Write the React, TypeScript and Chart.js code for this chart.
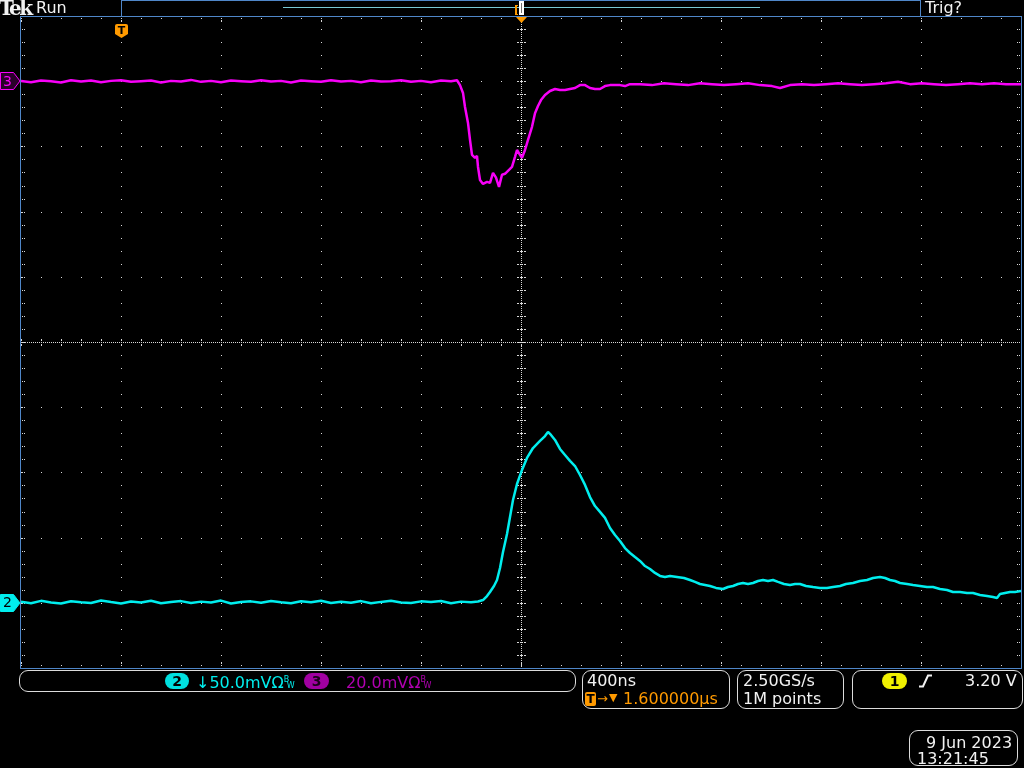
import React, { useEffect, useRef } from 'react';
import { Chart, registerables } from 'chart.js';

Chart.register(...registerables);

// ---- scale setup (time in ns relative to trigger, voltages in mV) ----
const TIME_DIVS_NS = [-400, 0, 400, 800, 1200, 1600, 2000, 2400, 2800, 3200, 3600];
const CH2_DIVS_MV = [-50, 0, 50, 100, 150, 200, 250, 300, 350, 400, 450];
const CH3_RANGE_MV = [-180, 20];

// ---- channel 2 (cyan, 50 mV/div) ----
const CH2_TRACE: [number, number][] = [
  [-400, 0.8], [-360, -0.4], [-320, 1.5], [-280, 0.2], [-240, -0.6], [-200, 1.2], [-160, 0.4], [-120, -0.2], [-80, 1.8], [-40, 0.6],
  [0, -0.5], [40, 1.0], [80, 0.3], [120, 1.6], [160, -0.3], [200, 0.7], [240, 1.3], [280, -0.1], [320, 0.9], [360, 0.2],
  [400, 1.7], [440, -0.5], [480, 0.6], [520, 1.1], [560, 0.0], [600, 1.4], [640, 0.5], [680, -0.3], [720, 1.2], [760, 0.4],
  [800, 1.6], [840, -0.2], [880, 0.8], [920, 0.1], [960, 1.3], [1000, -0.4], [1040, 0.7], [1080, 1.5], [1120, 0.3], [1160, -0.1],
  [1200, 1.1], [1240, 0.6], [1280, 1.4], [1320, -0.3], [1360, 0.9], [1400, 0.4], [1428, 1.0],
  [1448, 2.1], [1464, 5.2], [1476, 8.3], [1492, 12.9], [1504, 17.5], [1516, 26.7], [1528, 39.0], [1544, 52.8], [1556, 65.8],
  [1568, 78.8], [1584, 91.1], [1604, 101.9], [1624, 111.1], [1648, 118.7], [1676, 124.1], [1696, 127.9], [1708, 131.0],
  [1720, 128.7], [1736, 124.9], [1756, 118.0], [1776, 113.4], [1796, 108.8], [1816, 104.9], [1836, 98.0], [1856, 90.4],
  [1876, 81.1], [1896, 74.2], [1916, 69.7], [1936, 65.1], [1956, 57.4], [1976, 52.0], [1996, 47.4], [2016, 42.0],
  [2036, 38.2], [2056, 35.1], [2076, 32.1], [2096, 28.2], [2116, 25.9], [2136, 22.9], [2156, 20.6], [2176, 19.8],
  [2196, 20.6], [2224, 19.8], [2252, 19.0], [2276, 17.5], [2296, 16.0], [2316, 14.4], [2336, 13.7], [2356, 12.9],
  [2380, 11.4], [2408, 10.6], [2428, 12.1], [2448, 12.9], [2468, 14.4], [2488, 15.2], [2508, 14.4], [2528, 15.2],
  [2548, 16.7], [2568, 17.5], [2588, 16.7], [2608, 17.5], [2628, 16.0], [2652, 14.4], [2676, 13.7], [2696, 14.4],
  [2716, 14.4], [2740, 12.9], [2768, 12.1], [2796, 11.4], [2824, 11.4], [2848, 12.1], [2876, 12.9], [2900, 14.4],
  [2928, 15.2], [2956, 16.7], [2984, 17.5], [3008, 19.0], [3036, 19.8], [3056, 19.0], [3076, 17.5], [3096, 16.7],
  [3116, 15.2], [3144, 14.4], [3168, 13.7], [3196, 12.9], [3224, 12.1], [3248, 12.1], [3276, 10.6], [3304, 9.8],
  [3328, 8.3], [3356, 8.3], [3384, 7.5], [3408, 7.5], [3436, 6.0], [3464, 5.2], [3488, 4.4], [3504, 3.7],
  [3516, 6.7], [3536, 7.5], [3556, 8.3], [3576, 8.3], [3600, 9.0],
];

// ---- channel 3 (magenta, 20 mV/div) ----
const CH3_TRACE: [number, number][] = [
  [-400, 0.1], [-360, -0.3], [-320, 0.2], [-280, 0.0], [-240, -0.4], [-200, 0.3], [-160, -0.1], [-120, 0.2], [-80, -0.3], [-40, 0.1],
  [0, 0.3], [40, -0.2], [80, 0.0], [120, 0.2], [160, -0.4], [200, 0.1], [240, -0.1], [280, 0.4], [320, -0.2], [360, 0.1],
  [400, -0.3], [440, 0.2], [480, 0.0], [520, -0.2], [560, 0.3], [600, -0.1], [640, 0.1], [680, -0.4], [720, 0.2], [760, 0.0],
  [800, -0.2], [840, 0.3], [880, -0.1], [920, 0.1], [960, -0.3], [1000, 0.2], [1040, -0.1], [1080, 0.0], [1120, 0.3], [1160, -0.2],
  [1200, 0.1], [1240, -0.3], [1280, 0.2], [1320, 0.0], [1344, 0.3],
  [1356, -1.2], [1368, -3.6], [1376, -7.9], [1388, -12.8], [1396, -18.0], [1404, -22.6], [1416, -23.5], [1424, -22.9],
  [1428, -26.3], [1436, -30.3], [1448, -31.5], [1464, -30.9], [1476, -31.2], [1488, -28.1], [1500, -29.6], [1512, -32.4],
  [1524, -28.7], [1536, -28.4], [1552, -27.2], [1564, -26.3], [1576, -23.2], [1584, -21.1], [1596, -22.6], [1604, -23.5],
  [1616, -21.1], [1628, -18.0], [1644, -14.0], [1656, -9.8], [1668, -7.6], [1680, -5.8], [1696, -4.2], [1716, -3.0],
  [1736, -2.4], [1756, -2.7], [1776, -2.7], [1796, -2.4], [1816, -2.1], [1836, -1.2], [1856, -1.2], [1876, -2.1],
  [1896, -2.4], [1916, -2.4], [1936, -1.5], [1956, -1.2], [1976, -1.2], [1996, -1.2], [2016, -1.5], [2036, -0.9],
  [2076, -0.9], [2124, -1.2], [2172, -0.6], [2220, -0.9], [2268, -1.2], [2316, -0.6], [2364, -0.9], [2412, -1.2],
  [2460, -0.9], [2508, -0.6], [2556, -1.2], [2604, -1.5], [2636, -2.1], [2676, -1.2], [2724, -0.9], [2772, -1.2],
  [2820, -0.9], [2868, -0.6], [2916, -0.9], [2964, -1.2], [3012, -0.9], [3060, -0.6], [3108, -0.2], [3156, -0.9],
  [3204, -0.6], [3252, -0.9], [3300, -1.2], [3348, -0.9], [3396, -0.6], [3444, -0.9], [3492, -0.6], [3540, -0.9], [3600, -0.9],
];

const CH2_COLOR = '#00eeee';
const CH3_COLOR = '#f800f8';
const ORANGE = '#ff9a00';
const BLUE = '#4f86c8';
const DOT = '#d8d8d8';
const FONT = '"DejaVu Sans", sans-serif';

const graticule = {
  id: 'graticule',
  beforeDraw(chart: any) {
    const { ctx, width, height } = chart;
    ctx.save();
    ctx.fillStyle = '#000';
    ctx.fillRect(0, 0, width, height);
    ctx.restore();
  },
  beforeDatasetsDraw(chart: any) {
    const { ctx, chartArea: a, scales } = chart;
    const xs = scales.x;
    const ys = scales.y2;
    const xDiv = TIME_DIVS_NS.map((v) => Math.round(xs.getPixelForValue(v)));
    const yDiv = CH2_DIVS_MV.map((v) => Math.round(ys.getPixelForValue(v)));
    const xStep = (TIME_DIVS_NS[1] - TIME_DIVS_NS[0]) / 5;
    const yStep = (CH2_DIVS_MV[1] - CH2_DIVS_MV[0]) / 5;
    const xMinor: number[] = [];
    for (let v = TIME_DIVS_NS[0]; v <= TIME_DIVS_NS[TIME_DIVS_NS.length - 1] + 0.1; v += xStep) xMinor.push(Math.round(xs.getPixelForValue(v)));
    const yMinor: number[] = [];
    for (let v = CH2_DIVS_MV[0]; v <= CH2_DIVS_MV[CH2_DIVS_MV.length - 1] + 0.1; v += yStep) yMinor.push(Math.round(ys.getPixelForValue(v)));
    const xc = xDiv[5];
    const yc = yDiv[5];
    ctx.save();
    ctx.fillStyle = DOT;
    for (let i = 1; i < xDiv.length - 1; i++) {
      if (i === 5) continue;
      for (const y of yMinor) ctx.fillRect(xDiv[i], y, 1, 1);
    }
    for (let j = 1; j < yDiv.length - 1; j++) {
      if (j === 5) continue;
      for (const x of xMinor) ctx.fillRect(x, yDiv[j], 1, 1);
    }
    for (let x = Math.round(a.left); x < a.right; x += 2) ctx.fillRect(x, yc, 1, 1);
    for (let y = Math.round(a.top); y < a.bottom; y += 2) ctx.fillRect(xc, y, 1, 1);
    for (const x of xMinor) {
      ctx.fillRect(x, yc - 3, 1, 2);
      ctx.fillRect(x, yc + 2, 1, 2);
    }
    for (const y of yMinor) {
      ctx.fillRect(xc - 4, y, 2, 1);
      ctx.fillRect(xc - 1, y, 3, 1);
      ctx.fillRect(xc + 3, y, 2, 1);
    }
    const top = Math.round(a.top);
    const bottom = Math.round(a.bottom);
    const left = Math.round(a.left);
    const right = Math.round(a.right);
    for (const x of xMinor) {
      ctx.fillRect(x, top + 2, 1, 1);
      ctx.fillRect(x, bottom - 3, 1, 1);
    }
    for (const x of xDiv) {
      ctx.fillRect(x, top + 4, 1, 2);
      ctx.fillRect(x, bottom - 6, 1, 2);
    }
    for (const y of yMinor) {
      ctx.fillRect(left + 1, y, 1, 1);
      ctx.fillRect(left + 3, y, 1, 1);
      ctx.fillRect(right - 2, y, 1, 1);
      ctx.fillRect(right - 4, y, 1, 1);
    }
    ctx.restore();
  },
  afterDraw(chart: any) {
    const { ctx, chartArea: a, scales } = chart;
    const xs = scales.x;
    const top = Math.round(a.top);
    const bottom = Math.round(a.bottom);
    const left = Math.round(a.left);
    const right = Math.round(a.right);
    ctx.save();
    ctx.fillStyle = BLUE;
    ctx.fillRect(left - 1, top, right - left + 2, 1);
    ctx.fillRect(left - 1, bottom, right - left + 2, 1);
    ctx.fillRect(left - 1, top, 1, bottom - top + 1);
    ctx.fillRect(right, top, 1, bottom - top + 1);
    const trigX = Math.round(xs.getPixelForValue(0));
    ctx.fillRect(trigX, 0, 920 - trigX, 1);
    ctx.fillRect(trigX, 0, 1, top);
    ctx.fillRect(920, 0, 1, top);
    ctx.fillStyle = '#78c8d4';
    ctx.fillRect(283, 7, 477, 1);
    const xc = Math.round(xs.getPixelForValue(1600));
    ctx.fillStyle = '#ffffff';
    ctx.fillRect(xc - 2, 1, 5, 14);
    ctx.fillStyle = '#707070';
    ctx.fillRect(xc, 3, 1, 10);
    ctx.fillStyle = ORANGE;
    ctx.fillRect(xc - 6, 5, 2, 10);
    ctx.fillRect(xc - 6, 5, 3, 1);
    ctx.fillRect(xc - 6, 14, 3, 1);
    ctx.beginPath();
    ctx.moveTo(xc - 5, top + 1);
    ctx.lineTo(xc + 6, top + 1);
    ctx.lineTo(xc + 0.5, top + 7);
    ctx.closePath();
    ctx.fill();
    ctx.beginPath();
    ctx.moveTo(trigX - 6, 26);
    ctx.quadraticCurveTo(trigX - 6, 24, trigX - 4, 24);
    ctx.lineTo(trigX + 5, 24);
    ctx.quadraticCurveTo(trigX + 7, 24, trigX + 7, 26);
    ctx.lineTo(trigX + 7, 34);
    ctx.lineTo(trigX + 0.5, 38);
    ctx.lineTo(trigX - 6, 34);
    ctx.closePath();
    ctx.fill();
    const g3 = Math.round(scales.y3.getPixelForValue(0));
    const g2 = Math.round(scales.y2.getPixelForValue(0));
    const marker = (y: number, fill: string, stroke: string) => {
      ctx.beginPath();
      ctx.moveTo(0.5, y - 8.5);
      ctx.lineTo(13.5, y - 8.5);
      ctx.lineTo(20, y);
      ctx.lineTo(13.5, y + 8.5);
      ctx.lineTo(0.5, y + 8.5);
      ctx.closePath();
      ctx.fillStyle = fill;
      ctx.fill();
      ctx.strokeStyle = stroke;
      ctx.lineWidth = 1;
      ctx.stroke();
    };
    marker(g3, '#2a002a', CH3_COLOR);
    marker(g2, CH2_COLOR, CH2_COLOR);
    ctx.restore();
  },
};

const Txt = ({ s, left, top, color = '#f2f2f2', size = 16, style = {} }: any) => (
  <div
    style={{
      position: 'absolute',
      left,
      top,
      color,
      fontSize: size,
      lineHeight: `${size}px`,
      fontFamily: FONT,
      whiteSpace: 'pre',
      ...style,
    }}
  >
    {s}
  </div>
);

const Pill = ({ s, left, top, w, h, bg, color }: any) => (
  <div
    style={{
      position: 'absolute',
      left,
      top,
      width: w,
      height: h,
      background: bg,
      borderRadius: h / 2,
      color,
      fontFamily: FONT,
      fontSize: 14,
      fontWeight: 'bold',
      lineHeight: `${h}px`,
      textAlign: 'center',
    }}
  >
    {s}
  </div>
);

const Box = ({ left, top, w, h }: any) => (
  <div
    style={{
      position: 'absolute',
      left,
      top,
      width: w,
      height: h,
      boxSizing: 'border-box',
      border: '1px solid #dcdcdc',
      borderRadius: 9,
    }}
  />
);

const BW = ({ color }: any) => (
  <span style={{ display: 'inline-block', position: 'relative', width: 11, height: 14, verticalAlign: 'top', color, fontSize: 8, lineHeight: '8px' }}>
    <span style={{ position: 'absolute', left: 0, top: 1 }}>B</span>
    <span style={{ position: 'absolute', left: 3, top: 7 }}>W</span>
  </span>
);

export default function App() {
  const ref = useRef<HTMLCanvasElement | null>(null);

  useEffect(() => {
    if (!ref.current) return;
    const chart = new Chart(ref.current, {
      type: 'line',
      data: {
        datasets: [
          {
            label: 'CH3',
            data: CH3_TRACE.map(([x, y]) => ({ x, y })),
            xAxisID: 'x',
            yAxisID: 'y3',
            borderColor: CH3_COLOR,
            borderWidth: 2.5,
            pointRadius: 0,
            tension: 0,
            borderJoinStyle: 'bevel',
          },
          {
            label: 'CH2',
            data: CH2_TRACE.map(([x, y]) => ({ x, y })),
            xAxisID: 'x',
            yAxisID: 'y2',
            borderColor: CH2_COLOR,
            borderWidth: 2.5,
            pointRadius: 0,
            tension: 0,
            borderJoinStyle: 'bevel',
          },
        ],
      },
      options: {
        animation: false,
        responsive: false,
        events: [],
        layout: { padding: { left: 21, top: 16, right: 3, bottom: 100 } },
        plugins: { legend: { display: false }, tooltip: { enabled: false } },
        scales: {
          x: { type: 'linear', min: TIME_DIVS_NS[0], max: TIME_DIVS_NS[TIME_DIVS_NS.length - 1], display: false },
          y2: { type: 'linear', min: CH2_DIVS_MV[0], max: CH2_DIVS_MV[CH2_DIVS_MV.length - 1], display: false },
          y3: { type: 'linear', min: CH3_RANGE_MV[0], max: CH3_RANGE_MV[1], display: false },
        },
      } as any,
      plugins: [graticule],
    });
    return () => chart.destroy();
  }, []);

  return (
    <div style={{ position: 'fixed', left: 0, top: 0, width: 1024, height: 768, background: '#000', overflow: 'hidden' }}>
      <canvas ref={ref} width={1024} height={768} style={{ position: 'absolute', left: 0, top: 0, width: 1024, height: 768 }} />
      <Txt s="Tek" left={-1} top={-2} size={20} style={{ fontWeight: 'bold', letterSpacing: -2.5, fontFamily: '"DejaVu Serif", serif' }} />
      <Txt s="Run" left={36} top={0} />
      <Txt s="Trig?" left={925} top={0} />
      <Txt s="T" left={116} top={25} size={11} color="#000" style={{ fontWeight: 'bold', width: 11, textAlign: 'center' }} />
      <Txt s="3" left={3} top={74} size={14} color={CH3_COLOR} />
      <Txt s="2" left={3} top={595} size={14} color="#000" />
      <Box left={19} top={670} w={557} h={22} />
      <Pill s="2" left={165} top={673} w={24} h={16} bg="#00e0e0" color="#000" />
      <Txt left={196} top={675} color={CH2_COLOR} s={<>↓50.0mVΩ<BW color={CH2_COLOR} /></>} />
      <Pill s="3" left={304} top={673} w={25} h={16} bg="#a000a0" color="#1a001a" />
      <Txt left={346} top={675} color="#b000b0" s={<>20.0mVΩ<BW color="#b000b0" /></>} />
      <Box left={582} top={670} w={148} h={39} />
      <Txt s="400ns" left={587} top={673} />
      <div style={{ position: 'absolute', left: 585, top: 692, width: 11, height: 14, background: ORANGE, borderRadius: 2, color: '#000', fontFamily: FONT, fontSize: 12, fontWeight: 'bold', lineHeight: '14px', textAlign: 'center' }}>T</div>
      <Txt s="→" left={597} top={692} size={13} color={ORANGE} />
      <Txt s="▼" left={609} top={692} size={11} color={ORANGE} />
      <Txt s="1.600000µs" left={623} top={691} color={ORANGE} />
      <Box left={737} top={670} w={107} h={39} />
      <Txt s="2.50GS/s" left={743} top={673} />
      <Txt s="1M points" left={743} top={691} />
      <Box left={852} top={670} w={171} h={39} />
      <Pill s="1" left={882} top={673} w={25} h={16} bg="#f0f000" color="#000" />
      <svg style={{ position: 'absolute', left: 918, top: 674 }} width={16} height={14}>
        <path d="M1 12.5 H5 L10 1.5 H14" stroke="#f2f2f2" strokeWidth={2} fill="none" />
      </svg>
      <Txt s="3.20 V" left={965} top={673} />
      <Box left={909} top={730} w={109} h={36} />
      <Txt s="9 Jun 2023" left={926} top={735} />
      <Txt s="13:21:45" left={917} top={751} />
    </div>
  );
}
